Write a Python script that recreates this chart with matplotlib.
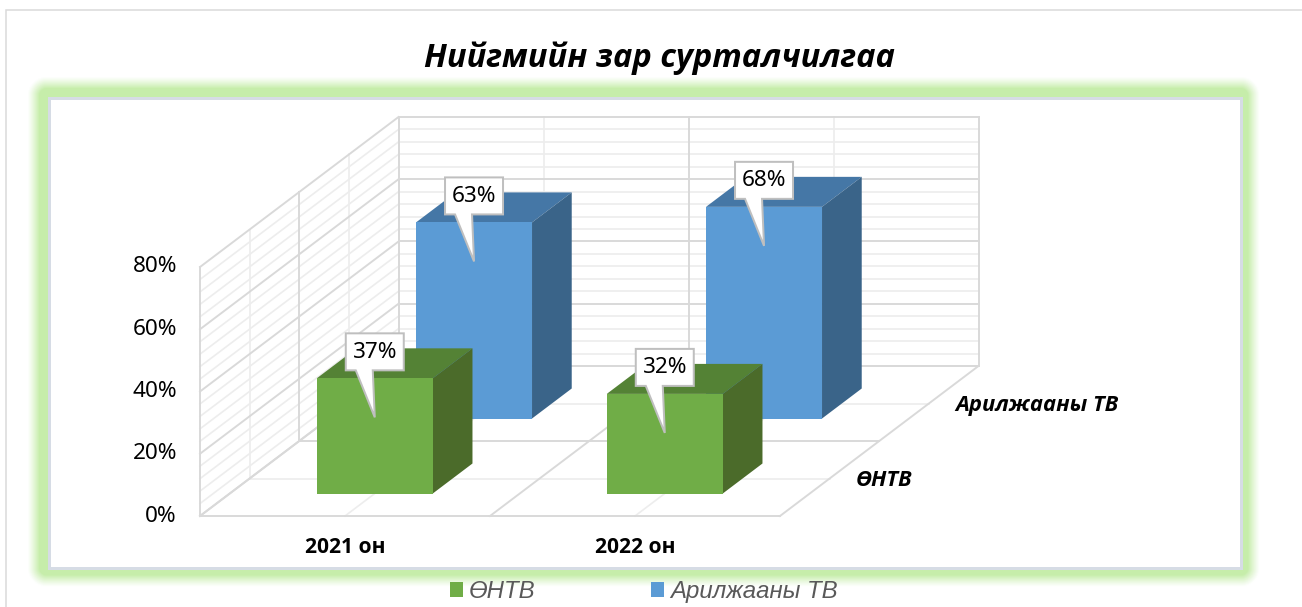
import matplotlib
matplotlib.use("Agg")
import matplotlib.pyplot as plt
from matplotlib.patches import Rectangle, Polygon, Patch
import numpy as np

W, H, DPI = 1302, 607, 100

title = "Нийгмийн зар сурталчилгаа"
categories = ["2021 он", "2022 он"]
series_names = ["ӨНТВ", "Арилжааны ТВ"]
ontv = [37, 32]
arilj = [63, 68]
value_ticks = [0, 20, 40, 60, 80]
tick_labels = ["0%", "20%", "40%", "60%", "80%"]

FRONT = ["#70AD47", "#5B9BD5"]
TOP = ["#548235", "#4577A6"]
SIDE = ["#4B6B2A", "#3A6489"]
MAJOR = "#D9D9D9"
MINOR = "#EDEDED"

fig = plt.figure(figsize=(W / DPI, H / DPI), dpi=DPI, facecolor="white")
px = 72 / DPI


def fig_rect(x0, y0, x1, y1, **kw):
    r = Rectangle((x0 / W, 1 - y1 / H), (x1 - x0) / W, (y1 - y0) / H,
                  transform=fig.transFigure, **kw)
    fig.add_artist(r)
    return r


# outer chart frame
fig_rect(6, 10, 1340, 640, fc="white", ec="#D9D9D9", lw=1.5 * px)

# glow around the plot panel
PX0, PY0, PX1, PY1 = 49, 98, 1241, 568
glow = np.array([0xC6, 0xED, 0xAA]) / 255
GW = 20
for w in np.arange(GW, 0, -0.5):
    t = np.clip((GW - w) / 12, 0, 1)
    c = 1 - (1 - glow) * t ** 1.2
    r = fig_rect(PX0 - 2, PY0 - 2, PX1 - 1, PY1 - 1, fc="none", ec=c, lw=2 * w * px)
    r.set_joinstyle("round")
fig_rect(PX0, PY0, PX1, PY1, fc="white", ec="#D6DCE5", lw=3 * px)

# axes = front plane of the 3D box
ax = fig.add_axes([200 / W, 1 - 516 / H, 580 / W, 249 / H], facecolor="none")
ax.set_zorder(10)
ax.set_xlim(0, 1)
ax.set_ylim(0, 80)
for s in ax.spines.values():
    s.set_visible(False)

DX = 198.5 / 580   # axis shift per unit of depth
DY = 150 / 249 * 80


def P(u, d, v):
    return (u + DX * d, v + DY * d)


def line3(a, b, major):
    (x0, y0), (x1, y1) = P(*a), P(*b)
    ax.plot([x0, x1], [y0, y1], color=MAJOR if major else MINOR,
            lw=(1.6 if major else 1.4) * px * 1.2, clip_on=False,
            zorder=1.5 if major else 1, solid_capstyle="projecting")


# gridlines every 4 %, heavier every 20 %
for v in range(0, 81, 4):
    major = v % 20 == 0
    line3((0, 0, v), (0, 1, v), major)
    line3((0, 1, v), (1, 1, v), major)
for d in (0, .25, .5, .75, 1):
    major = d in (0, .5, 1)
    line3((0, d, 0), (0, d, 80), major)
    line3((0, d, 0), (1, d, 0), major)
for u in (0, .25, .5, .75, 1):
    major = u in (0, .5, 1)
    line3((u, 0, 0), (u, 1, 0), major)
    line3((u, 1, 0), (u, 1, 80), major)

# bars, back row first
BW = 0.2
DEPTH = 0.2
centers_u = [0.25, 0.75]
centers_d = [0.25, 0.75]


def bar3(uc, dc, v, i):
    u0, u1 = uc - BW / 2, uc + BW / 2
    d0, d1 = dc - DEPTH / 2, dc + DEPTH / 2
    faces = [
        ([(u0, d0, v), (u1, d0, v), (u1, d1, v), (u0, d1, v)], TOP[i]),
        ([(u1, d0, 0), (u1, d1, 0), (u1, d1, v), (u1, d0, v)], SIDE[i]),
        ([(u0, d0, 0), (u1, d0, 0), (u1, d0, v), (u0, d0, v)], FRONT[i]),
    ]
    for pts, col in faces:
        ax.add_patch(Polygon([P(*p) for p in pts], closed=True, fc=col, ec="none",
                             clip_on=False, zorder=3 + (1 - i)))


def callout(uc, dc, v, label):
    d0 = dc - DEPTH / 2
    cx, ty = ax.transData.transform(P(uc, d0, v))
    pts_px = [(-29, 45), (29, 45), (29, 8), (-2, 8), (0, -39), (-19, 8), (-29, 8)]
    pts = ax.transData.inverted().transform([(cx + a, ty + b) for a, b in pts_px])
    ax.add_patch(Polygon(pts, closed=True, fc="white", ec="#BFBFBF", lw=2 * px,
                         clip_on=False, zorder=6, joinstyle="miter"))
    tx, ty2 = ax.transData.inverted().transform((cx, ty + 26))
    ax.text(tx, ty2, label, ha="center", va="center", fontsize=22.5 * px,
            family=["Noto Sans"], color="#000000", zorder=7, clip_on=False)


for j, vals in reversed(list(enumerate([ontv, arilj]))):
    for k, v in enumerate(vals):
        bar3(centers_u[k], centers_d[j], v, j)
for j, vals in reversed(list(enumerate([ontv, arilj]))):
    for k, v in enumerate(vals):
        callout(centers_u[k], centers_d[j], v, f"{v}%")

# real axis ticks
ax.set_yticks(value_ticks, tick_labels, family=["Noto Sans"], fontsize=22.5 * px, color="#000000")
ax.tick_params(axis="y", length=0, pad=23 * px)
for lab in ax.get_yticklabels():
    lab.set_y(lab.get_position()[1])
    lab.set_verticalalignment("center")
ax.set_xticks(centers_u, categories, family=["Open Sans"], fontweight="bold",
              fontsize=21 * px, color="black")
ax.tick_params(axis="x", length=0, pad=21 * px)

# depth-axis labels
for (x, y, s) in [(856, 481, series_names[0]), (955, 406, series_names[1])]:
    fig.text(x / W, 1 - y / H, s, ha="left", va="center", family=["Open Sans"],
             fontweight="bold", style="italic", fontsize=22 * px, color="black", zorder=11)

fig.text(659 / W, 1 - 58.5 / H, title, ha="center", va="center", family=["Open Sans"],
         fontweight="bold", style="italic", fontsize=32.6 * px, color="black", zorder=11)

handles = [Patch(fc=FRONT[0], ec="none", label=series_names[0]),
           Patch(fc=FRONT[1], ec="none", label=series_names[1])]
leg = fig.legend(handles=handles, loc="center left", bbox_to_anchor=(450 / W, 1 - 591.5 / H),
                 bbox_transform=fig.transFigure, ncols=2, frameon=False, borderpad=0,
                 borderaxespad=0, handlelength=0.55, handleheight=0.55, handletextpad=0.25,
                 columnspacing=4.8,
                 prop={"family": "Liberation Sans", "style": "italic", "size": 24 * px})
leg.set_zorder(11)
for t in leg.get_texts():
    t.set_color("#595959")

fig.savefig("out.png", dpi=DPI, facecolor="white")
